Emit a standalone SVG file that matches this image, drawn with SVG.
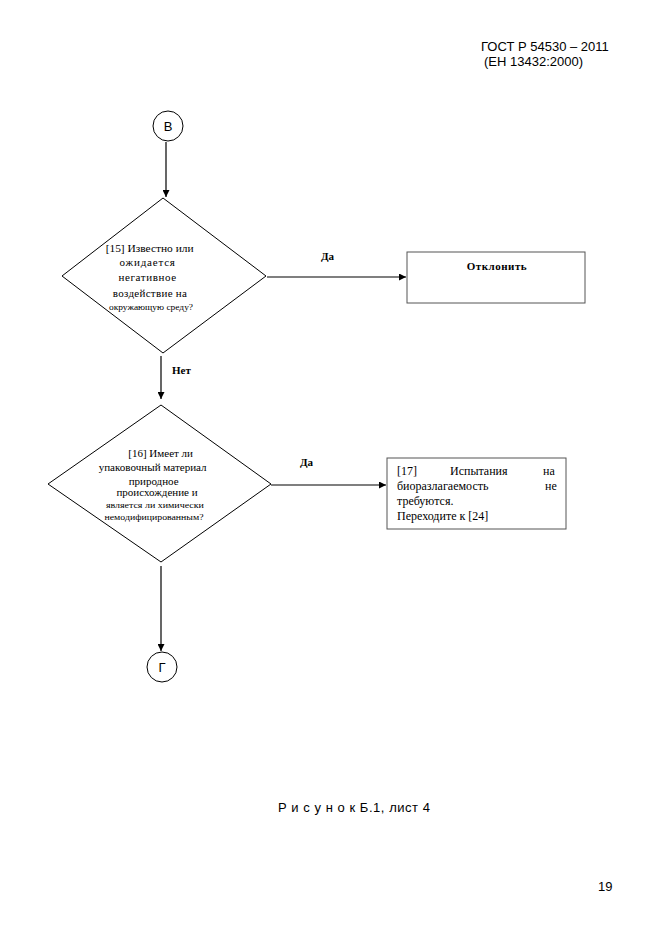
<svg xmlns="http://www.w3.org/2000/svg" width="661" height="935" viewBox="0 0 661 935">
<style>
.ln{stroke:#000;stroke-width:1.2;fill:none}
.sh{stroke:#000;stroke-width:1;fill:#fff}
.box{stroke:#555;stroke-width:1;fill:#fff}
.t{font-family:"Liberation Serif",serif;font-size:11px;fill:#000}
.ts{font-family:"Liberation Serif",serif;font-size:9px;fill:#000}
.b{font-family:"Liberation Serif",serif;font-size:11px;font-weight:bold;fill:#000}
.a{font-family:"Liberation Sans",Arial,sans-serif;font-size:13px;fill:#000}
.bx{font-family:"Liberation Serif",serif;font-size:12px;fill:#000}
</style>
<defs>
<marker id="ar" viewBox="0 0 10 10" refX="10" refY="5" markerWidth="7" markerHeight="7" markerUnits="userSpaceOnUse" orient="auto">
<path d="M0,0 L10,5 L0,10 z" fill="#000"/>
</marker>
</defs>
<g id="header">
<text class="a" x="481" y="51">ГОСТ Р 54530 – 2011</text>
<text class="a" x="484" y="66">(ЕН 13432:2000)</text>
</g>
<g id="connectors">
<line class="ln" x1="166" y1="142" x2="166" y2="197" marker-end="url(#ar)"/>
<line class="ln" x1="267" y1="277" x2="406" y2="277" marker-end="url(#ar)"/>
<line class="ln" x1="161" y1="356" x2="161" y2="399" marker-end="url(#ar)"/>
<line class="ln" x1="271" y1="485" x2="386" y2="485" marker-end="url(#ar)"/>
<line class="ln" x1="161" y1="566" x2="161" y2="651" marker-end="url(#ar)"/>
<text class="b" x="321" y="260">Да</text>
<text class="b" x="172" y="374">Нет</text>
<text class="b" x="300" y="466">Да</text>
</g>
<g id="nodeB">
<circle class="sh" cx="168" cy="126" r="15"/>
<text class="a" x="168" y="131" text-anchor="middle">В</text>
</g>
<g id="node15">
<polygon class="sh" points="163,198 266,276 163,353 62,276"/>
<text class="t" text-anchor="middle">
<tspan x="151" y="252" textLength="88" lengthAdjust="spacingAndGlyphs">[15] Известно или</tspan>
<tspan x="149" y="266" letter-spacing="0.8">ожидается</tspan>
<tspan x="149" y="281" letter-spacing="0.6">негативное</tspan>
<tspan x="150" y="297" letter-spacing="0.3">воздействие на</tspan>
</text>
<text class="ts" x="151" y="310" text-anchor="middle" textLength="84" lengthAdjust="spacingAndGlyphs">окружающую среду?</text>
</g>
<g id="nodeOtk">
<rect class="box" x="407" y="252" width="178" height="51"/>
<text class="b" x="497" y="270" text-anchor="middle" letter-spacing="0.5">Отклонить</text>
</g>
<g id="node16">
<polygon class="sh" points="161,405 271,484 161,562 48,484"/>
<text class="t" text-anchor="middle">
<tspan x="162" y="457">[16] Имеет ли</tspan>
<tspan x="154" y="471" textLength="108" lengthAdjust="spacingAndGlyphs">упаковочный материал</tspan>
<tspan x="155" y="485">природное</tspan>
<tspan x="157" y="496">происхождение и</tspan>
</text>
<text class="ts" text-anchor="middle">
<tspan x="156" y="508" textLength="98" lengthAdjust="spacingAndGlyphs">является ли химически</tspan>
<tspan x="154" y="520" textLength="99" lengthAdjust="spacingAndGlyphs">немодифицированным?</tspan>
</text>
</g>
<g id="node17">
<rect class="box" x="387" y="458" width="179" height="71"/>
<text class="bx">
<tspan x="397" y="475">[17]</tspan>
<tspan x="450" y="475">Испытания</tspan>
<tspan x="543" y="475">на</tspan>
<tspan x="397" y="490">биоразлагаемость</tspan>
<tspan x="545" y="490">не</tspan>
<tspan x="397" y="505">требуются.</tspan>
<tspan x="397" y="520">Переходите к [24]</tspan>
</text>
</g>
<g id="nodeG">
<circle class="sh" cx="162" cy="667" r="15"/>
<text class="a" x="162" y="672" text-anchor="middle">Г</text>
</g>
<g id="footer">
<text class="a" x="278" y="812" font-size="12" textLength="152" lengthAdjust="spacing">Р и с у н о к  Б.1, лист 4</text>
<text class="a" x="598" y="891" font-size="12">19</text>
</g>
</svg>
